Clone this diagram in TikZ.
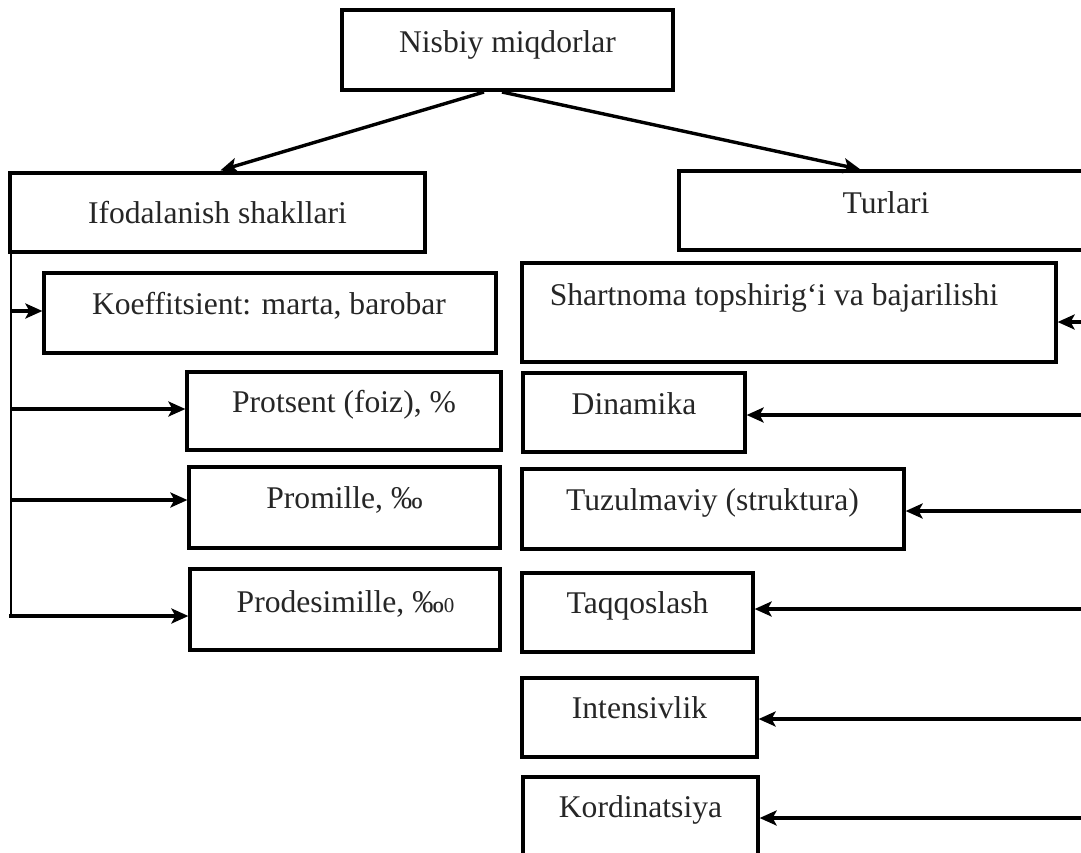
\documentclass[tikz,border=0pt]{standalone}
\usepackage{fontspec}
\setmainfont{Liberation Serif}
\usetikzlibrary{arrows.meta,calc}
\begin{document}
\begin{tikzpicture}[x=1pt,y=-1pt,
  box/.style 2 args={draw=black, line width=3.2pt, inner sep=0pt,
    minimum width=#1pt, minimum height=#2pt},
  lbl/.style={anchor=base, inner sep=0pt, text=black!85,
    font=\fontsize{31.6}{36}\selectfont},
  link/.style={line width=3.4pt, -{Stealth[length=17pt,width=15pt,inset=4pt]}},
  spine/.style={line width=1.8pt}]
\useasboundingbox (0,0) rectangle (1081,852);
\fill[white] (0,0) rectangle (1081,852);
\begin{scope}
\clip (0,0) rectangle (1081,852);

% top level
\node[box={331}{80}] (nisbiy) at (507.5,50) {};
\node[lbl] (tnisbiy) at (507.5,52) {Nisbiy miqdorlar};

% second level
\node[box={415}{79}] (ifod) at (217.5,212.5) {};
\node[lbl] (tifod) at (217.5,223) {Ifodalanish shakllari};
\node[box={414}{79}] (turl) at (886,210.5) {};
\node[lbl] (tturl) at (886,213) {Turlari};

% forms of expression
\node[box={452}{80}] (koef) at (270,313) {};
\node[lbl] (tkoef) at (269,314) {Koeffitsient: marta, barobar};
\node[box={314}{78}] (prots) at (344,411) {};
\node[lbl] (tprots) at (344,412) {Protsent (foiz), \%};
\node[box={311}{81}] (prom) at (344.5,507.5) {};
\node[lbl] (tprom) at (344.5,508) {Promille, ‰};
\node[box={310}{81}] (prodes) at (345,609.5) {};
\node[lbl] (tprodes) at (345.5,612) {Prodesimille, ‰{\fontsize{21}{21}\selectfont 0}};

% kinds
\node[box={534}{99}] (shart) at (789,312.5) {};
\node[lbl] (tshart) at (774,305) {Shartnoma topshirig‘i va bajarilishi};
\node[box={222}{79}] (dinam) at (634,412.5) {};
\node[lbl] (tdinam) at (634,414) {Dinamika};
\node[box={382}{80}] (tuz) at (713,509) {};
\node[lbl] (ttuz) at (712.5,510) {Tuzulmaviy (struktura)};
\node[box={231}{79}] (taq) at (637.5,612.5) {};
\node[lbl] (ttaq) at (637.5,613) {Taqqoslash};
\node[box={235}{79}] (inten) at (639.5,717.5) {};
\node[lbl] (tinten) at (639.5,718) {Intensivlik};
\node[box={235}{84}] (kord) at (640.5,819) {};
\node[lbl] (tkord) at (640.5,817) {Kordinatsiya};

% branches from the top box
\coordinate (nl) at (484,92);
\coordinate (nr) at (502,92);
\draw[link] (nl) -- ($(ifod.north west)+(212,-1)$);
\draw[link] (nr) -- ($(turl.north west)+(183,0)$);

% left spine and its arrows
\coordinate (s0) at (11,252);
\coordinate (s1) at (11,311);
\coordinate (s2) at (11,409);
\coordinate (s3) at (11,500);
\coordinate (s4) at (9,616);
\draw[spine] (s0) -- (11,616);
\draw[link] (s1) -- (koef.west |- s1);
\draw[link] (s2) -- (prots.west |- s2);
\draw[link] (s3) -- (prom.west |- s3);
\draw[link] (s4) -- (prodes.west |- s4);

% arrows coming in from the right edge
\coordinate (r1) at (1090,322);
\coordinate (r2) at (1090,415);
\coordinate (r3) at (1090,511);
\coordinate (r4) at (1090,609);
\coordinate (r5) at (1090,719);
\coordinate (r6) at (1090,818);
\draw[link] (r1) -- (shart.east |- r1);
\draw[link] (r2) -- (dinam.east |- r2);
\draw[link] (r3) -- (tuz.east |- r3);
\draw[link] (r4) -- (taq.east |- r4);
\draw[link] (r5) -- (inten.east |- r5);
\draw[link] (r6) -- (kord.east |- r6);
\end{scope}
\end{tikzpicture}
\end{document}
